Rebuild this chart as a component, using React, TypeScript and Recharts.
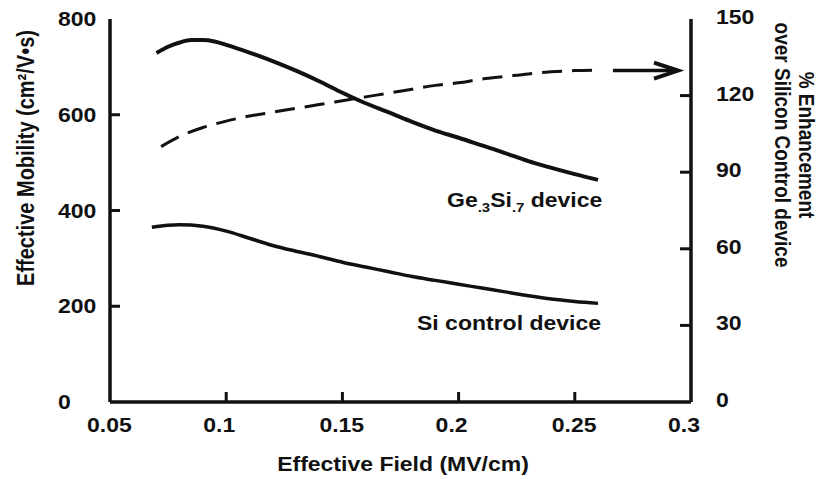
import { LineChart, Line, XAxis, YAxis, Customized } from "recharts";

const X_TICKS = [0.05, 0.1, 0.15, 0.2, 0.25, 0.3];
const LEFT_TICKS = [0, 200, 400, 600, 800];
const RIGHT_TICKS = [0, 30, 60, 90, 120, 150];

// Ge.3Si.7 device mobility (left axis)
const geField = [0.07, 0.075, 0.08, 0.085, 0.09, 0.095, 0.1, 0.11, 0.12, 0.13, 0.14, 0.15, 0.16, 0.17, 0.18, 0.19, 0.2, 0.21, 0.22, 0.23, 0.24, 0.25, 0.26];
const geMobility = [729, 742, 751, 756, 756, 753, 746, 730, 712, 692, 670, 646, 624, 605, 585, 567, 552, 536, 520, 503, 489, 476, 464];

// Si control device mobility (left axis)
const siField = [0.068, 0.075, 0.08, 0.09, 0.1, 0.11, 0.12, 0.13, 0.14, 0.15, 0.16, 0.17, 0.18, 0.19, 0.2, 0.21, 0.22, 0.23, 0.24, 0.25, 0.26];
const siMobility = [365, 369, 370, 367, 357, 342, 327, 315, 304, 292, 282, 272, 262, 254, 246, 238, 230, 222, 215, 210, 206];

// % enhancement (right axis, dashed)
const enhField = [0.072, 0.08, 0.09, 0.1, 0.11, 0.12, 0.13, 0.14, 0.15, 0.16, 0.17, 0.18, 0.19, 0.2, 0.21, 0.22, 0.23, 0.24, 0.25, 0.26];
const enhPercent = [100, 104, 107.5, 110, 112, 113.5, 115, 116.5, 118, 119.5, 121, 122.5, 124, 125, 126.5, 127.5, 128.5, 129.3, 129.8, 130];

// arrow pointing to the right axis
const arrowField = [0.2664, 0.2944];
const arrowPercent = [129.8, 129.8];

const zip = (xs: number[], ys: number[]) => xs.map((x, i) => ({ x, y: ys[i] }));
const geData = zip(geField, geMobility);
const siData = zip(siField, siMobility);
const enhData = zip(enhField, enhPercent);
const arrowData = zip(arrowField, arrowPercent);

const INK = "#111";
const FONT = "'Liberation Sans', Arial, sans-serif";
const SX = 1.15;

function Txt({ x, y, anchor = "start", rotate = 0, size = 20, children }: any) {
  return (
    <text
      transform={`translate(${x},${y}) scale(${SX},1)${rotate ? ` rotate(${rotate})` : ""}`}
      textAnchor={anchor}
      fontFamily={FONT}
      fontWeight="bold"
      fontSize={size}
      fill={INK}
    >
      {children}
    </text>
  );
}

const isEnd = (v: number, lo: number, hi: number) => Math.abs(v - lo) < 1e-9 || Math.abs(v - hi) < 1e-9;

function BottomTick({ x, y, payload }: any) {
  const v = payload.value;
  return (
    <g>
      {!isEnd(v, 0.05, 0.3) && <line x1={x} x2={x} y1={y} y2={y - 10} stroke={INK} strokeWidth={3} />}
      <Txt x={x - 23} y={y + 30}>{String(v)}</Txt>
    </g>
  );
}

function TopTick({ x, y, payload }: any) {
  if (isEnd(payload.value, 0.05, 0.3)) return <g />;
  return <line x1={x} x2={x} y1={y} y2={y + 9} stroke={INK} strokeWidth={3} />;
}

function LeftTick({ x, y, payload }: any) {
  const v = payload.value;
  return (
    <g>
      {!isEnd(v, 0, 800) && <line x1={x} x2={x + 10} y1={y} y2={y} stroke={INK} strokeWidth={3} />}
      <Txt x={x - 52} y={y + 7}>{String(v)}</Txt>
    </g>
  );
}

function RightTick({ x, y, payload }: any) {
  const v = payload.value;
  return (
    <g>
      {!isEnd(v, 0, 150) && <line x1={x} x2={x - 11} y1={y} y2={y} stroke={INK} strokeWidth={3} />}
      <Txt x={x + 25} y={y + 5}>{String(v)}</Txt>
    </g>
  );
}

function ArrowDot({ cx, cy, index }: any) {
  if (index !== arrowData.length - 1) return <g key={index} />;
  return (
    <path
      key={index}
      d={`M${cx - 24},${cy - 8} L${cx},${cy} L${cx - 24},${cy + 8}`}
      fill="none"
      stroke={INK}
      strokeWidth={4}
      strokeLinejoin="miter"
    />
  );
}

function Labels() {
  return (
    <g>
      <Txt x={34} y={158} anchor="middle" rotate={-90}>
        Effective Mobility (cm²/V•s)
      </Txt>
      <Txt x={403} y={471} anchor="middle">
        Effective Field (MV/cm)
      </Txt>
      <Txt x={799} y={145} anchor="middle" rotate={90} size={19}>
        % Enhancement
      </Txt>
      <Txt x={775} y={145} anchor="middle" rotate={90} size={19}>
        over Silicon Control device
      </Txt>
      <Txt x={447} y={207}>
        Ge<tspan fontSize={13} dy={5}>.3</tspan>
        <tspan dy={-5}>Si</tspan>
        <tspan fontSize={13} dy={5}>.7</tspan>
        <tspan dy={-5}> device</tspan>
      </Txt>
      <Txt x={417} y={330}>Si control device</Txt>
    </g>
  );
}

const frame = { stroke: INK, strokeWidth: 3.5 };

export default function App() {
  return (
    <div style={{ position: "absolute", left: 0, top: 0, width: 822, height: 479, background: "#fff" }}>
      <LineChart width={822} height={479} margin={{ top: 19, right: 0, bottom: 0, left: 0 }}>
        <XAxis
          dataKey="x"
          type="number"
          domain={[0.05, 0.3]}
          ticks={X_TICKS}
          interval={0}
          allowDataOverflow
          height={77}
          axisLine={frame}
          tickLine={false}
          tickSize={0}
          tickMargin={0}
          tick={(p: any) => <BottomTick {...p} />}
        />
        <XAxis
          xAxisId="top"
          orientation="top"
          dataKey="x"
          type="number"
          domain={[0.05, 0.3]}
          ticks={X_TICKS}
          interval={0}
          height={0}
          axisLine={frame}
          tickLine={false}
          tickSize={0}
          tickMargin={0}
          tick={(p: any) => <TopTick {...p} />}
        />
        <YAxis
          yAxisId="left"
          type="number"
          domain={[0, 800]}
          ticks={LEFT_TICKS}
          interval={0}
          width={110}
          axisLine={frame}
          tickLine={false}
          tickSize={0}
          tickMargin={0}
          tick={(p: any) => <LeftTick {...p} />}
        />
        <YAxis
          yAxisId="right"
          orientation="right"
          type="number"
          domain={[0, 150]}
          ticks={RIGHT_TICKS}
          interval={0}
          width={131}
          axisLine={frame}
          tickLine={false}
          tickSize={0}
          tickMargin={0}
          tick={(p: any) => <RightTick {...p} />}
        />
        <Line data={geData} dataKey="y" yAxisId="left" type="monotone" stroke={INK} strokeWidth={4} dot={false} isAnimationActive={false} />
        <Line data={siData} dataKey="y" yAxisId="left" type="monotone" stroke={INK} strokeWidth={3.5} dot={false} isAnimationActive={false} />
        <Line data={enhData} dataKey="y" yAxisId="right" type="monotone" stroke={INK} strokeWidth={3} strokeDasharray="20 10" dot={false} isAnimationActive={false} />
        <Line data={arrowData} dataKey="y" yAxisId="right" type="linear" stroke={INK} strokeWidth={3.5} dot={(p: any) => <ArrowDot key={p.index} {...p} />} isAnimationActive={false} />
        <Customized component={Labels} />
      </LineChart>
    </div>
  );
}
